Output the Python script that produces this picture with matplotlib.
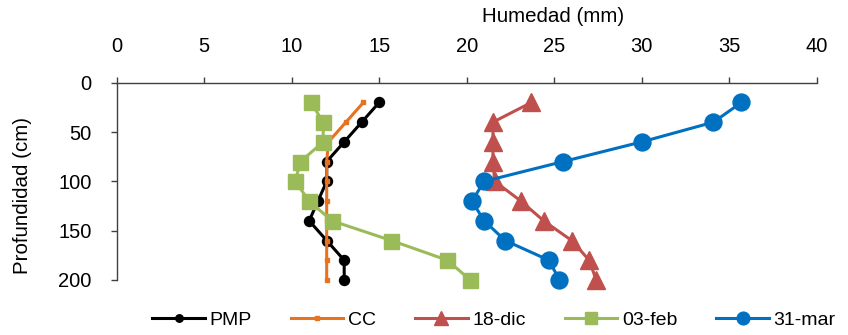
import matplotlib
matplotlib.use("Agg")
import matplotlib.pyplot as plt

plt.rcParams['font.family'] = ['Liberation Sans', 'DejaVu Sans']

depth = [20, 40, 60, 80, 100, 120, 140, 160, 180, 200]
pmp = [15.0, 14.0, 13.0, 12.0, 12.0, 11.5, 11.0, 12.0, 13.0, 13.0]
cc = [14.1, 13.1, 12.1, 12.0, 12.0, 12.0, 12.0, 12.0, 12.0, 12.0]
dic18 = [23.7, 21.5, 21.5, 21.5, 21.6, 23.1, 24.4, 26.0, 27.0, 27.4]
feb03 = [11.1, 11.8, 11.8, 10.5, 10.2, 11.0, 12.3, 15.7, 18.9, 20.2]
mar31 = [35.7, 34.1, 30.0, 25.5, 21.0, 20.3, 21.0, 22.2, 24.7, 25.3]

xticks = [0, 5, 10, 15, 20, 25, 30, 35, 40]
yticks = [0, 50, 100, 150, 200]

fig = plt.figure(figsize=(8.48, 3.35), dpi=100)
ax = fig.add_axes([0.1376, 0.1642, 0.8255, 0.5889])

lw = 2.2
ax.plot(pmp, depth, color='black', lw=lw, marker='o', ms=7.2, label='PMP', clip_on=False)
ax.plot(cc, depth, color='#E8731E', lw=lw, marker='s', ms=3, mfc='#E8731E', mec='#E8731E', label='CC', clip_on=False)
ax.plot(dic18, depth, color='#C0504D', lw=lw, marker='^', ms=13, label='18-dic', clip_on=False)
ax.plot(feb03, depth, color='#9BBB59', lw=lw, marker='s', ms=10.8, label='03-feb', clip_on=False)
ax.plot(mar31, depth, color='#0070C0', lw=lw, marker='o', ms=12.2, label='31-mar', clip_on=False)

ax.set_xlim(0, 40)
ax.set_ylim(200, 0)
ax.set_xticks(xticks)
ax.set_yticks(yticks)
ax.xaxis.tick_top()
for s in ['right', 'bottom']:
    ax.spines[s].set_visible(False)
for s in ['left', 'top']:
    ax.spines[s].set_color('#404040')
    ax.spines[s].set_linewidth(1.0)
ax.tick_params(axis='x', direction='out', length=4.5, width=1, pad=14.5, labelsize=14.5, colors='#404040', labelcolor='black')
ax.tick_params(axis='y', direction='out', length=4.5, width=1, pad=13.5, labelsize=14.5, colors='#404040', labelcolor='black')

fig.text(553.5 / 848, 1 - 17 / 335, 'Humedad (mm)', ha='center', va='center', fontsize=14.8)
fig.text(23 / 848, 1 - 195 / 335, 'Profundidad (cm)', ha='center', va='center', rotation=90, fontsize=14.8)

fig.legend(loc='center', bbox_to_anchor=(494 / 848, 1 - 320 / 335), ncol=5, frameon=False,
           fontsize=14, handlelength=2.7, handletextpad=0.25, columnspacing=2.0,
           markerscale=0.75)

fig.savefig('out.png', dpi=100)
